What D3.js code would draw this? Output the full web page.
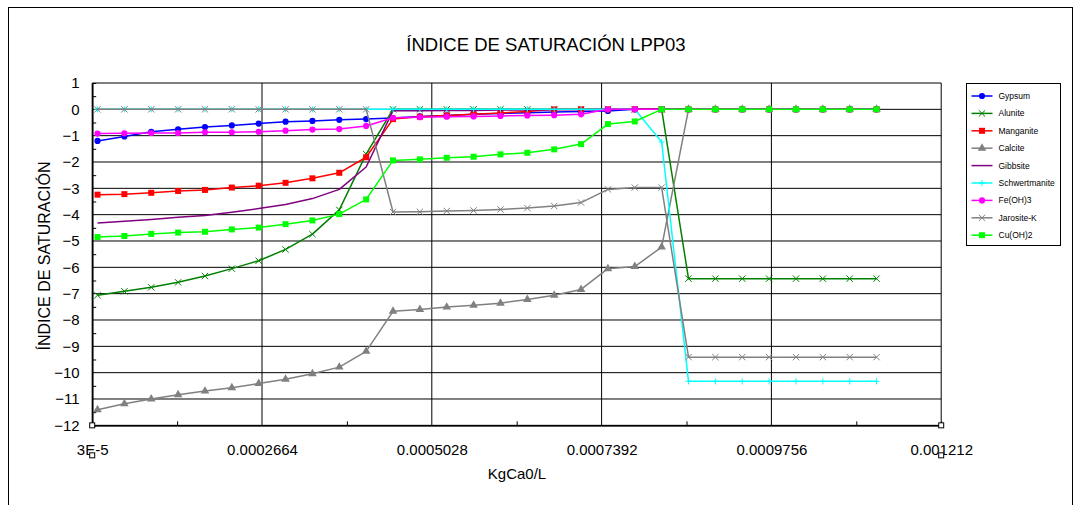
<!DOCTYPE html>
<html>
<head>
<meta charset="utf-8">
<script src="https://cdn.jsdelivr.net/npm/d3@7"></script>
<style>
	body { margin: 0; background: #fff; }
	svg { display: block; font-family: "Liberation Sans", Arial, sans-serif; }
	.legend text { font-size: 8.5px; }
</style>
</head>
<body>
<div id="graph"></div>
<script>
// KgCa0/L at each step
const kgCa = [0.0000374, 0.0000748, 0.0001122, 0.0001496, 0.000187, 0.0002244, 0.0002618, 0.0002992, 0.0003366, 0.000374,
	0.0004114, 0.0004488, 0.0004862, 0.0005236, 0.000561, 0.0005984, 0.0006358, 0.0006732, 0.0007106, 0.000748,
	0.0007854, 0.0008228, 0.0008602, 0.0008976, 0.000935, 0.0009724, 0.0010098, 0.0010472, 0.0010846, 0.001122];

const gypsum = [-1.20, -1.03, -0.85, -0.76, -0.67, -0.61, -0.54, -0.47, -0.44, -0.40, -0.37, -0.33, -0.27, -0.23, -0.19,
	-0.16, -0.13, -0.10, -0.08, -0.06, 0, 0, 0, 0, 0, 0, 0, 0, 0, 0];
const alunite = [-7.06, -6.91, -6.76, -6.57, -6.33, -6.05, -5.75, -5.32, -4.74, -3.82, -1.70, 0, 0, 0, 0,
	0, 0, 0, 0, 0, 0, 0, -6.43, -6.43, -6.43, -6.43, -6.43, -6.43, -6.43, -6.43];
const manganite = [-3.24, -3.22, -3.17, -3.10, -3.06, -2.97, -2.90, -2.79, -2.62, -2.41, -1.82, -0.37, -0.28, -0.23, -0.19,
	-0.14, -0.08, 0, 0, 0, 0, 0, 0, 0, 0, 0, 0, 0, 0, 0];
const calcite = [-11.41, -11.18, -11.00, -10.84, -10.70, -10.57, -10.41, -10.25, -10.04, -9.79, -9.19, -7.67, -7.60, -7.51, -7.44,
	-7.36, -7.22, -7.06, -6.84, -6.05, -5.97, -5.23, 0, 0, 0, 0, 0, 0, 0, 0];
const gibbsite = [-4.32, -4.25, -4.18, -4.10, -4.03, -3.91, -3.77, -3.61, -3.39, -3.04, -2.19, -0.05, -0.05, -0.04, -0.04,
	-0.03, -0.03, -0.02, -0.02, 0, 0, 0, 0, 0, 0, 0, 0, 0, 0, 0];
const schwertmannite = [0, 0, 0, 0, 0, 0, 0, 0, 0, 0, 0, 0, 0, 0, 0,
	0, 0, 0, 0, 0, 0, -1.24, -10.33, -10.33, -10.33, -10.33, -10.33, -10.33, -10.33, -10.33];
const feOH3 = [-0.92, -0.91, -0.90, -0.90, -0.87, -0.87, -0.85, -0.81, -0.77, -0.75, -0.63, -0.32, -0.30, -0.28, -0.27,
	-0.25, -0.23, -0.22, -0.19, 0, 0, 0, 0, 0, 0, 0, 0, 0, 0, 0];
const jarosite = [0, 0, 0, 0, 0, 0, 0, 0, 0, 0, 0, -3.90, -3.89, -3.86, -3.84,
	-3.80, -3.75, -3.67, -3.54, -3.04, -2.97, -2.97, -9.41, -9.41, -9.41, -9.41, -9.41, -9.41, -9.41, -9.41];
const cuOH2 = [-4.85, -4.81, -4.73, -4.68, -4.65, -4.56, -4.49, -4.36, -4.22, -3.98, -3.42, -1.94, -1.90, -1.84, -1.80,
	-1.71, -1.65, -1.52, -1.32, -0.56, -0.46, 0, 0, 0, 0, 0, 0, 0, 0, 0];

const seriesNames = ["Gypsum", "Alunite", "Manganite", "Calcite", "Gibbsite", "Schwertmanite", "Fe(OH)3", "Jarosite-K", "Cu(OH)2"];
const seriesValues = [gypsum, alunite, manganite, calcite, gibbsite, schwertmannite, feOH3, jarosite, cuOH2];
const seriesColors = ["#0000ff", "#008000", "#ff0000", "#808080", "#800080", "#00ffff", "#ff00ff", "#808080", "#00ff00"];
const seriesMarkers = ["circle", "times", "square", "triangle", "none", "plus", "circle", "times", "square"];

const xTicks = [0.00003, 0.0002664, 0.0005028, 0.0007392, 0.0009756, 0.001212];
const xTickLabels = ["3E-5", "0.0002664", "0.0005028", "0.0007392", "0.0009756", "0.001212"];
const yTicks = d3.range(-12, 2);

const width = 1079, height = 505;
const plot = {left: 92.2, right: 941.2, top: 83, bottom: 425.333};

const svg = d3.select("#graph")
	.append("svg")
	.attr("width", width)
	.attr("height", height);

// outer frame
svg.append("rect")
	.attr("x", 8.5).attr("y", 7.5)
	.attr("width", 1064).attr("height", 530)
	.attr("fill", "none").attr("stroke", "#000");

const xScale = d3.scaleLinear()
	.domain([xTicks[0], xTicks[xTicks.length - 1]])
	.range([plot.left, plot.right]);

const yScale = d3.scaleLinear()
	.domain([-12, 1])
	.range([plot.bottom, plot.top]);

svg.append("text")
	.attr("x", 546).attr("y", 51)
	.attr("text-anchor", "middle")
	.style("font-size", "18.5px")
	.text("ÍNDICE DE SATURACIÓN LPP03");

// grid
const grid = svg.append("g").attr("class", "grid");
grid.selectAll("line.h").data(yTicks).enter().append("line")
	.attr("class", "h")
	.attr("x1", plot.left).attr("x2", plot.right)
	.attr("y1", d => yScale(d)).attr("y2", d => yScale(d))
	.attr("stroke", "#000").attr("stroke-width", 1);
grid.selectAll("line.v").data(xTicks).enter().append("line")
	.attr("class", "v")
	.attr("y1", plot.top).attr("y2", plot.bottom)
	.attr("x1", d => xScale(d)).attr("x2", d => xScale(d))
	.attr("stroke", "#000").attr("stroke-width", 1);

// axes, ticks pointing inside
const yAxis = d3.axisLeft(yScale)
	.tickValues(yTicks)
	.tickSize(0)
	.tickPadding(12.5)
	.tickFormat(d3.format("d"));
const yAxisG = svg.append("g")
	.attr("transform", `translate(${plot.left},0)`)
	.call(yAxis);

const yMinor = d3.axisRight(yScale)
	.tickValues(d3.range(-11.5, 1, 1))
	.tickSize(4)
	.tickFormat("");
svg.append("g")
	.attr("transform", `translate(${plot.left},0)`)
	.call(yMinor);

const xAxis = d3.axisBottom(xScale)
	.tickValues(xTicks)
	.tickSize(0)
	.tickPadding(19)
	.tickFormat((d, i) => xTickLabels[i]);
const xAxisG = svg.append("g")
	.attr("transform", `translate(0,${plot.bottom})`)
	.call(xAxis);

const xMinor = d3.axisTop(xScale)
	.tickValues(d3.range(0, 5).map(i => (xTicks[i] + xTicks[i + 1]) / 2))
	.tickSize(4)
	.tickFormat("");
svg.append("g")
	.attr("transform", `translate(0,${plot.bottom})`)
	.call(xMinor);

[yAxisG, xAxisG].forEach(g => {
	g.selectAll("text").style("font-size", "15px").style("font-family", "Liberation Sans, Arial, sans-serif").attr("fill", "#000");
	g.select(".domain").attr("stroke", "#000").attr("stroke-width", 1.5);
});
svg.selectAll(".tick line").attr("stroke", "#000");

// small selection squares at the axis ends
const handles = [[xTicks[0], 0], [xTicks[0], 30], [xTicks[5], 0], [xTicks[5], 30]];
svg.selectAll("rect.handle").data(handles).enter().append("rect")
	.attr("class", "handle")
	.attr("x", d => xScale(d[0]) - 2.5)
	.attr("y", d => plot.bottom + d[1] - 2.5)
	.attr("width", 5).attr("height", 5)
	.attr("fill", "#fff").attr("stroke", "#000").attr("stroke-width", 1);

svg.append("text")
	.attr("transform", "rotate(-90)")
	.attr("x", -256).attr("y", 50)
	.attr("text-anchor", "middle")
	.style("font-size", "16px")
	.text("ÍNDICE DE SATURACIÓN");

svg.append("text")
	.attr("x", 517).attr("y", 479)
	.attr("text-anchor", "middle")
	.style("font-size", "15px")
	.text("KgCa0/L");

// series
const line = d3.line()
	.x((d, i) => xScale(kgCa[i]))
	.y(d => yScale(d));

function symbolFor(name) {
	if (name == "circle") return d3.symbol(d3.symbolCircle, 30);
	if (name == "square") return d3.symbol(d3.symbolSquare, 36);
	if (name == "triangle") return d3.symbol(d3.symbolTriangle, 32);
	if (name == "times") return d3.symbol(d3.symbolTimes || d3.symbolX, 28);
	if (name == "plus") return d3.symbol(d3.symbolPlus, 14);
	return null;
}
const isStroke = m => m == "times" || m == "plus";

for (let s = 0; s < seriesValues.length; s++) {
	const g = svg.append("g").attr("class", "series");
	g.append("path").datum(seriesValues[s])
		.attr("fill", "none")
		.attr("stroke", seriesColors[s])
		.attr("stroke-width", 1.5)
		.attr("stroke-linejoin", "round")
		.attr("d", line);
	const sym = symbolFor(seriesMarkers[s]);
	if (sym) {
		g.selectAll("path.marker").data(seriesValues[s]).enter().append("path")
			.attr("class", "marker")
			.attr("transform", (d, i) => `translate(${xScale(kgCa[i])},${yScale(d)})`)
			.attr("d", sym)
			.attr("fill", isStroke(seriesMarkers[s]) ? "none" : seriesColors[s])
			.attr("stroke", isStroke(seriesMarkers[s]) ? seriesColors[s] : "none")
			.attr("stroke-width", 1);
	}
}

// legend
const legend = svg.append("g")
	.attr("class", "legend")
	.attr("transform", "translate(966.5,83.5)");
legend.append("rect")
	.attr("width", 94).attr("height", 162)
	.attr("fill", "#fff").attr("stroke", "#000");
const items = legend.selectAll("g.item").data(seriesNames).enter().append("g")
	.attr("class", "item")
	.attr("transform", (d, i) => `translate(0,${12.5 + i * 17.4})`);
items.append("line")
	.attr("x1", 5).attr("x2", 26)
	.attr("stroke", (d, i) => seriesColors[i])
	.attr("stroke-width", 1.5);
items.each(function (d, i) {
	const sym = symbolFor(seriesMarkers[i]);
	if (!sym) return;
	d3.select(this).append("path")
		.attr("transform", "translate(15.5,0)")
		.attr("d", sym)
		.attr("fill", isStroke(seriesMarkers[i]) ? "none" : seriesColors[i])
		.attr("stroke", isStroke(seriesMarkers[i]) ? seriesColors[i] : "none");
});
items.append("text")
	.attr("x", 32).attr("dy", "0.35em")
	.text(d => d);
</script>
</body>
</html>
